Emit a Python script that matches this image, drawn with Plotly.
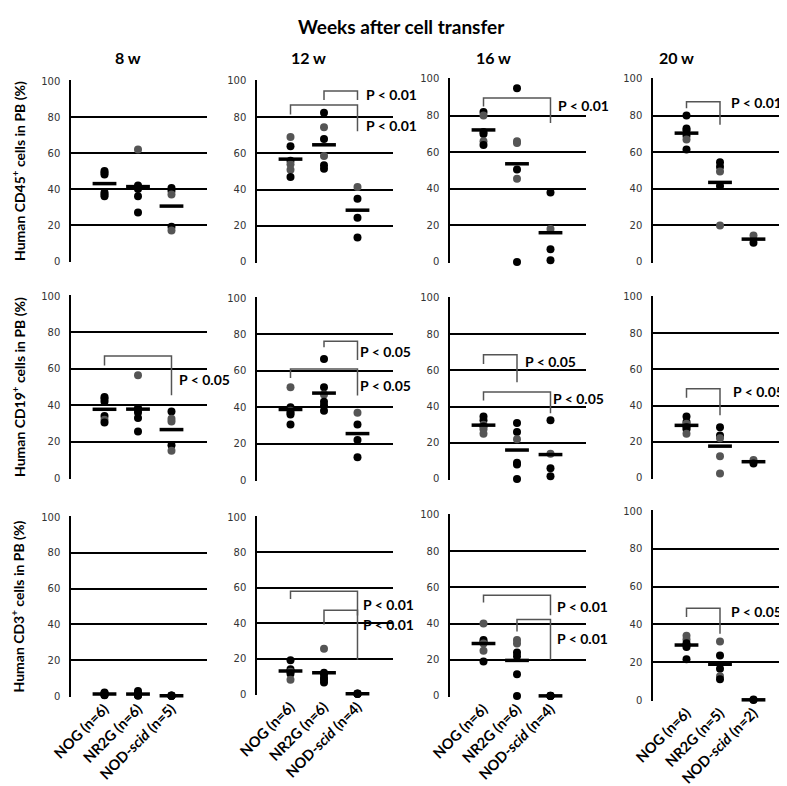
import plotly.graph_objects as go
import numpy as np

W, H = 787, 786

categories = ["NOG", "NR2G", "NOD-<i>scid</i>"]
week_labels = ["8 w", "12 w", "16 w", "20 w"]
row_titles = ["Human CD45<sup>+</sup> cells in PB (%)",
              "Human CD19<sup>+</sup> cells in PB (%)",
              "Human CD3<sup>+</sup> cells in PB (%)"]
y_ticks = [0, 20, 40, 60, 80, 100]

# ---- CD45 ----
cd45_8w_NOG = [50, 49, 48, 38, 37, 36]
cd45_8w_NR2G = [62, 42, 41, 40, 36, 27]
cd45_8w_NOD = [40.5, 39, 37, 19, 17]
cd45_12w_NOG = [69, 64, 56, 54, 51, 47]
cd45_12w_NR2G = [82.5, 74.5, 68, 58.5, 53.5, 51.5]
cd45_12w_NOD = [41.5, 35, 24.5, 13.5]
cd45_16w_NOG = [82, 80, 71, 70, 66, 64]
cd45_16w_NR2G = [95, 66, 65, 50.5, 45.5, 0]
cd45_16w_NOD = [38, 18, 7, 1]
cd45_20w_NOG = [80, 73, 72, 69, 67, 61.5]
cd45_20w_NR2G = [54.5, 52, 49.5, 41.5, 20]
cd45_20w_NOD = [14.5, 10.5]
# ---- CD19 ----
cd19_8w_NOG = [44.5, 43.5, 42, 34, 32, 30.5]
cd19_8w_NR2G = [56.5, 38.5, 37.5, 36, 33, 25.5]
cd19_8w_NOD = [36.5, 32.5, 31, 18, 15]
cd19_12w_NOG = [51, 40, 38, 37, 36, 30.5]
cd19_12w_NR2G = [66.5, 51, 47, 43, 41, 38]
cd19_12w_NOD = [37, 30.5, 22, 12.5]
cd19_16w_NOG = [34.5, 32.5, 30, 29, 27.5, 25]
cd19_16w_NR2G = [31, 26, 22, 9, 8, 0]
cd19_16w_NOD = [32.5, 14, 6, 1.5]
cd19_20w_NOG = [34, 31, 30, 28, 27, 24.5]
cd19_20w_NR2G = [28, 23.5, 22, 12, 2.5]
cd19_20w_NOD = [10, 8]
# ---- CD3 ----
cd3_8w_NOG = [2, 1.5, 1.2, 1, 0.6, 0.4]
cd3_8w_NR2G = [2.8, 1.5, 1, 0.6, 0.4, 0.2]
cd3_8w_NOD = [0.3, 0.2, 0.1, 0.1, 0]
cd3_12w_NOG = [19, 14, 13, 12.5, 11.5, 8]
cd3_12w_NR2G = [25.5, 12, 11, 9, 8, 6.5]
cd3_12w_NOD = [0.3, 0.2, 0.1, 0]
cd3_16w_NOG = [40, 31, 30, 29, 25, 19]
cd3_16w_NR2G = [31, 29, 24, 22, 12, 0]
cd3_16w_NOD = [0.2, 0.1, 0, 0]
cd3_20w_NOG = [34, 32, 30, 29, 28, 21.5]
cd3_20w_NR2G = [31, 23.5, 16.5, 12.5, 11]
cd3_20w_NOD = [0.2, 0]

panels = [
    [(cd45_8w_NOG, cd45_8w_NR2G, cd45_8w_NOD), (cd45_12w_NOG, cd45_12w_NR2G, cd45_12w_NOD),
     (cd45_16w_NOG, cd45_16w_NR2G, cd45_16w_NOD), (cd45_20w_NOG, cd45_20w_NR2G, cd45_20w_NOD)],
    [(cd19_8w_NOG, cd19_8w_NR2G, cd19_8w_NOD), (cd19_12w_NOG, cd19_12w_NR2G, cd19_12w_NOD),
     (cd19_16w_NOG, cd19_16w_NR2G, cd19_16w_NOD), (cd19_20w_NOG, cd19_20w_NR2G, cd19_20w_NOD)],
    [(cd3_8w_NOG, cd3_8w_NR2G, cd3_8w_NOD), (cd3_12w_NOG, cd3_12w_NR2G, cd3_12w_NOD),
     (cd3_16w_NOG, cd3_16w_NR2G, cd3_16w_NOD), (cd3_20w_NOG, cd3_20w_NR2G, cd3_20w_NOD)],
]

# dot shade per point: k = black, g = dark grey
shades = [
    [("kkkkkk", "gkkkkk", "kkgkg"), ("gkkggk", "kgkgkk", "gkkk"),
     ("kgkkgk", "kggkgk", "kgkk"), ("kkkkgk", "kkgkg", "gk")],
    [("kkkkgk", "gkkkkk", "kggkg"), ("gkgkkk", "kkgkkk", "gkkk"),
     ("kkgkgg", "kkgkkk", "kgkk"), ("kkgkkg", "kkggg", "gk")],
    [("kkkkkk", "kkkkkk", "kkkkk"), ("kkkgkg", "gkkkkk", "kkkk"),
     ("gkkggk", "ggkkkk", "kkkk"), ("ggkkkk", "gkkgk", "kk")],
]

# significance brackets: (row, col, from group, to group, top, left foot, right foot)
brackets = [
    (0, 1, 1, 2, 94.5, 89.5, 89.5), (0, 1, 0, 2, 86.7, 81.5, 72.3),
    (0, 2, 0, 2, 89.6, 85.0, 76.0),
    (0, 3, 0, 1, 87.6, 84.0, 75.0),
    (1, 0, 0, 2, 67.0, 61.8, 45.5),
    (1, 1, 1, 2, 76.3, 73.0, 66.0), (1, 1, 0, 2, 61.0, 56.0, 46.4),
    (1, 2, 0, 1, 68.6, 63.5, 53.5), (1, 2, 0, 2, 48.0, 43.4, 36.3),
    (1, 3, 0, 1, 49.3, 44.3, 34.7),
    (2, 1, 0, 2, 58.0, 53.7, 44.4), (2, 1, 1, 2, 47.3, 39.2, 19.4),
    (2, 2, 0, 2, 55.6, 51.7, 44.6), (2, 2, 1, 2, 42.2, 35.7, 20.0),
    (2, 3, 0, 1, 48.5, 43.9, 35.1),
]
# p-value labels: (row, col, anchor group, y, text, pixel shift)
pvals = [
    (0, 1, 2, 92.6, "P < 0.01", 8), (0, 1, 2, 75.6, "P < 0.01", 8),
    (0, 2, 2, 85.6, "P < 0.01", 7),
    (0, 3, 1, 87.3, "P < 0.01", 10),
    (1, 0, 2, 54.0, "P < 0.05", 7),
    (1, 1, 2, 70.6, "P < 0.05", 2), (1, 1, 2, 52.0, "P < 0.05", 2),
    (1, 2, 1, 64.8, "P < 0.05", 7), (1, 2, 2, 44.5, "P < 0.05", 2),
    (1, 3, 1, 48.0, "P < 0.05", 12),
    (2, 1, 2, 50.5, "P < 0.01", 5), (2, 1, 2, 39.2, "P < 0.01", 5),
    (2, 2, 2, 49.5, "P < 0.01", 6), (2, 2, 2, 32.0, "P < 0.01", 6),
    (2, 3, 1, 47.0, "P < 0.05", 10),
]

GRAY = "#555555"
FONT_B = "Lato"
col_left = [63, 249, 442, 645]
panel_w = 136
tops = [[73, 73, 71, 71], [288, 290, 290, 289], [509, 509, 507, 503]]
bottoms = [[253, 254, 254, 254], [470, 472, 471, 470], [688, 686, 688, 692]]
YPAD = 0.4
XR = [-1, 3.06]

fig = go.Figure()
layout = {}
annotations = []
shapes = []

for r in range(3):
    for c in range(4):
        k = r * 4 + c + 1
        s = "" if k == 1 else str(k)
        groups = panels[r][c]
        for g, vals in enumerate(groups):
            cols = ["black" if f == "k" else GRAY for f in shades[r][c][g]]
            fig.add_trace(go.Scatter(
                x=[g] * len(vals), y=vals, mode="markers",
                marker=dict(size=8, color=cols, line=dict(width=0)),
                xaxis="x" + s, yaxis="y" + s, showlegend=False, cliponaxis=False))
        means = [float(np.mean(v)) for v in groups]
        fig.add_trace(go.Scatter(
            x=[0, 1, 2], y=means, mode="markers",
            marker=dict(symbol="line-ew", size=17, color="black",
                        line=dict(width=3.5, color="black")),
            xaxis="x" + s, yaxis="y" + s, showlegend=False, cliponaxis=False))

        top, bot = tops[r][c], bottoms[r][c]
        pxu = (bot - top) / 100.0
        d_top = top - YPAD * pxu
        d_bot = bot + YPAD * pxu
        ydom = [1 - d_bot / H, 1 - d_top / H]
        xdom = [col_left[c] / W, (col_left[c] + panel_w) / W]

        xa = dict(domain=xdom, range=XR, anchor="y" + s, showgrid=False,
                  zeroline=False, showline=False, fixedrange=True, automargin=False)
        if r == 2:
            ticktext = [f"{categories[i]} (n={len(groups[i])})" for i in range(3)]
            xa.update(tickmode="array", tickvals=[0, 1, 2], ticktext=ticktext,
                      tickangle=-45, ticks="", showticklabels=True,
                      tickfont=dict(family=FONT_B, size=14.5, color="black", weight="bold"))
        else:
            xa.update(showticklabels=False, ticks="")
        ya = dict(domain=ydom, range=[-YPAD, 100 + YPAD], anchor="x" + s,
                  tickmode="array", tickvals=y_ticks, showgrid=True,
                  gridcolor="black", gridwidth=1.5, zeroline=False,
                  showline=True, linecolor="black", linewidth=1.5, ticks="",
                  ticklabelstandoff=7, automargin=False,
                  tickfont=dict(family="DejaVu Sans", size=10, color="#333333"),
                  fixedrange=True)
        layout["xaxis" + s] = xa
        layout["yaxis" + s] = ya

for (r, c, i, j, top, lf, rf) in brackets:
    k = r * 4 + c + 1
    s = "" if k == 1 else str(k)
    shapes.append(dict(type="path", xref="x" + s, yref="y" + s,
                       path=f"M {i},{lf} L {i},{top} L {j},{top} L {j},{rf}",
                       line=dict(color="#555555", width=1.5)))

for (r, c, j, y, txt, sh) in pvals:
    k = r * 4 + c + 1
    s = "" if k == 1 else str(k)
    annotations.append(dict(x=j, y=y, xref="x" + s, yref="y" + s, text=txt,
                            showarrow=False, xanchor="left", yanchor="middle",
                            xshift=sh, borderpad=0,
                            font=dict(family=FONT_B, size=14, color="black", weight="bold")))

for r in range(3):
    cy = 1 - ((tops[r][0] + bottoms[r][0]) / 2) / H
    annotations.append(dict(x=10 / W, y=cy, xref="paper", yref="paper",
                            text=row_titles[r], textangle=-90, showarrow=False,
                            xanchor="center", yanchor="middle",
                            font=dict(family=FONT_B, size=14, color="black", weight="bold")))

header_x = [120, 300, 485, 668]
for c in range(4):
    annotations.append(dict(x=header_x[c] / W, y=1 - 50 / H, xref="paper", yref="paper",
                            text=week_labels[c], showarrow=False,
                            xanchor="center", yanchor="middle",
                            font=dict(family=FONT_B, size=16, color="black", weight="bold")))

annotations.append(dict(x=393 / W, y=1 - 18 / H, xref="paper", yref="paper",
                        text="Weeks after cell transfer", showarrow=False,
                        xanchor="center", yanchor="middle",
                        font=dict(family=FONT_B, size=19, color="black", weight="bold")))

fig.update_layout(width=W, height=H, margin=dict(l=0, r=0, t=0, b=0, autoexpand=False),
                  paper_bgcolor="white", plot_bgcolor="white",
                  showlegend=False, annotations=annotations, shapes=shapes,
                  **layout)

fig.write_html("out.html")
